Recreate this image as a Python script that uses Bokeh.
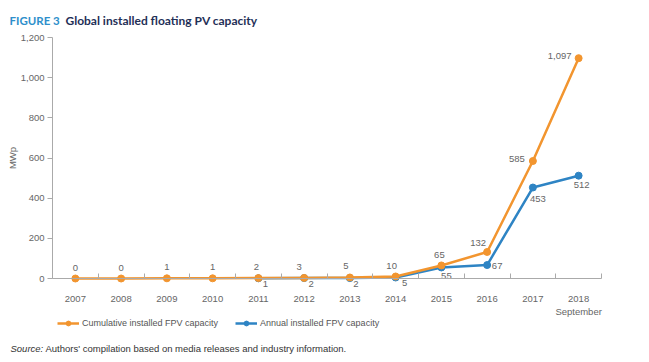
import math
from bokeh.plotting import figure
from bokeh.models import (Range1d, FixedTicker, NumeralTickFormatter, Label,
                          Legend, LegendItem, ColumnDataSource)
from bokeh.embed import file_html
from bokeh.resources import INLINE
from bokeh.core.properties import value

# ---- data ----
years = ["2007", "2008", "2009", "2010", "2011", "2012", "2013", "2014",
         "2015", "2016", "2017", "2018"]
year_tick_labels = ["2007", "2008", "2009", "2010", "2011", "2012", "2013",
                    "2014", "2015", "2016", "2017", "2018\nSeptember"]
cumulative = [0, 0, 1, 1, 2, 3, 5, 10, 65, 132, 585, 1097]
cumulative_labels = ["0", "0", "1", "1", "2", "3", "5", "10", "65", "132",
                     "585", "1,097"]
annual_years = ["2011", "2012", "2013", "2014", "2015", "2016", "2017", "2018"]
annual = [1, 2, 2, 5, 55, 67, 453, 512]
annual_labels = ["1", "2", "2", "5", "55", "67", "453", "512"]
y_ticks = [0, 200, 400, 600, 800, 1000, 1200]
y_max = 1200

# ---- label offsets (styling, px) ----
cum_xoff = [0, 0, 0, 0, -2, -5, -4, -4, -2, -9, -16, -19]
cum_yoff = [-11, -11, -11, -11, -11, -11, -11, -10, -10, -9, -2, -2]
ann_xoff = [7, 7, 6, 9, 5, 10, 5, 3]
ann_yoff = [6, 6, 6, 6, 9, 1, 11, 9]

ORANGE = "#F2952F"
BLUE = "#2E84C4"
GREY = "#666666"

# ---- layout (pixels on the canvas) ----
W, H = 645, 358
AX_LEFT, AX_RIGHT = 52, 601      # plot area left/right edge
Y0_PX, YTOP_PX = 278, 37         # pixel row of value 0 and of y_max

n = len(years)
step = (AX_RIGHT - AX_LEFT) / n
ppu = (Y0_PX - YTOP_PX) / y_max
x_lo = -0.5 - AX_LEFT / step
x_hi = n - 0.5 + (W - AX_RIGHT) / step
y_lo = -(H - Y0_PX) / ppu
y_hi = y_max + YTOP_PX / ppu

xs = list(range(n))
ann_xs = [years.index(y) for y in annual_years]

p = figure(width=W, height=H,
           x_range=Range1d(x_lo, x_hi), y_range=Range1d(y_lo, y_hi),
           output_backend="svg", toolbar_location=None,
           min_border_left=0, min_border_right=0,
           min_border_top=0, min_border_bottom=0)
p.outline_line_color = None
p.xgrid.visible = False
p.ygrid.visible = False

# x axis
xa = p.xaxis[0]
xa.ticker = FixedTicker(ticks=xs, minor_ticks=[i - 0.5 for i in range(n + 1)])
xa.major_label_overrides = {i: lab for i, lab in zip(xs, year_tick_labels)}
xa.fixed_location = 0
xa.bounds = (-0.5, n - 0.5)
xa.major_tick_in = 0
xa.major_tick_out = 0
xa.minor_tick_in = 5
xa.minor_tick_out = 0
xa.minor_tick_line_color = "#aaaaaa"
xa.axis_line_color = "#aaaaaa"
xa.major_label_standoff = 14
xa.major_label_text_font = "Liberation Sans"
xa.major_label_text_font_size = "9.5px"
xa.major_label_text_color = GREY

# y axis
ya = p.yaxis[0]
ya.ticker = FixedTicker(ticks=y_ticks)
ya.formatter = NumeralTickFormatter(format="0,0")
ya.fixed_location = -0.5
ya.bounds = (0, y_max)
ya.major_tick_in = 0
ya.major_tick_out = 5
ya.minor_tick_in = 0
ya.minor_tick_out = 0
ya.major_tick_line_color = "#aaaaaa"
ya.axis_line_color = "#aaaaaa"
ya.major_label_standoff = 3
ya.major_label_text_font = "Liberation Sans"
ya.major_label_text_font_size = "9.5px"
ya.major_label_text_color = GREY
ya.axis_label = "MWp"
ya.axis_label_standoff = 0
ya.axis_label_text_font = "Liberation Sans"
ya.axis_label_text_font_style = "normal"
ya.axis_label_text_font_size = "9.5px"
ya.axis_label_text_color = GREY

# series
bl = p.line(ann_xs, annual, color=BLUE, line_width=2.5)
bs = p.scatter(ann_xs, annual, size=7, color=BLUE)
ol = p.line(xs, cumulative, color=ORANGE, line_width=2.5)
os_ = p.scatter(xs, cumulative, size=7, color=ORANGE)

# data labels
src_c = ColumnDataSource(dict(x=xs, y=cumulative, t=cumulative_labels,
                              xo=cum_xoff, yo=cum_yoff))
p.text(x="x", y="y", text="t", x_offset="xo", y_offset="yo", source=src_c,
       text_align="center", text_baseline="middle",
       text_font=value("Liberation Sans"), text_font_size="9.5px",
       text_color=GREY)
src_a = ColumnDataSource(dict(x=ann_xs, y=annual, t=annual_labels,
                              xo=ann_xoff, yo=ann_yoff))
p.text(x="x", y="y", text="t", x_offset="xo", y_offset="yo", source=src_a,
       text_align="center", text_baseline="middle",
       text_font=value("Liberation Sans"), text_font_size="9.5px",
       text_color=GREY)

# legend
legend = Legend(items=[
    LegendItem(label="Cumulative installed FPV capacity", renderers=[ol, os_]),
    LegendItem(label="Annual installed FPV capacity", renderers=[bl, bs]),
], orientation="horizontal", location=(57, H - 329),
    border_line_color=None, background_fill_alpha=0,
    label_text_font="Liberation Sans", label_text_font_size="9px",
    label_text_color="#555555", glyph_width=22, glyph_height=12,
    label_height=12, label_standoff=3, spacing=17, padding=0, margin=0)
p.add_layout(legend)

# titles and notes (screen units from the bottom-left corner)
p.add_layout(Label(x=9, y=H - 20, x_units="screen", y_units="screen",
                   text="FIGURE 3", text_font="Lato", text_font_style="bold",
                   text_font_size="11.5px", text_color="#2E8FCB",
                   text_baseline="middle", text_align="left"))
p.add_layout(Label(x=65, y=H - 20, x_units="screen", y_units="screen",
                   text="Global installed floating PV capacity", text_font="Lato",
                   text_font_style="bold", text_font_size="12px",
                   text_color="#1F3057", text_baseline="middle", text_align="left"))
p.add_layout(Label(x=10, y=H - 348, x_units="screen", y_units="screen",
                   text="Source:", text_font="Liberation Sans",
                   text_font_style="italic", text_font_size="9.5px",
                   text_color="#333333", text_baseline="middle", text_align="left"))
p.add_layout(Label(x=45, y=H - 348, x_units="screen", y_units="screen",
                   text="Authors' compilation based on media releases and industry information.",
                   text_font="Liberation Sans", text_font_size="9.5px",
                   text_color="#333333", text_baseline="middle", text_align="left"))

open("out.html", "w").write(file_html(p, INLINE))
